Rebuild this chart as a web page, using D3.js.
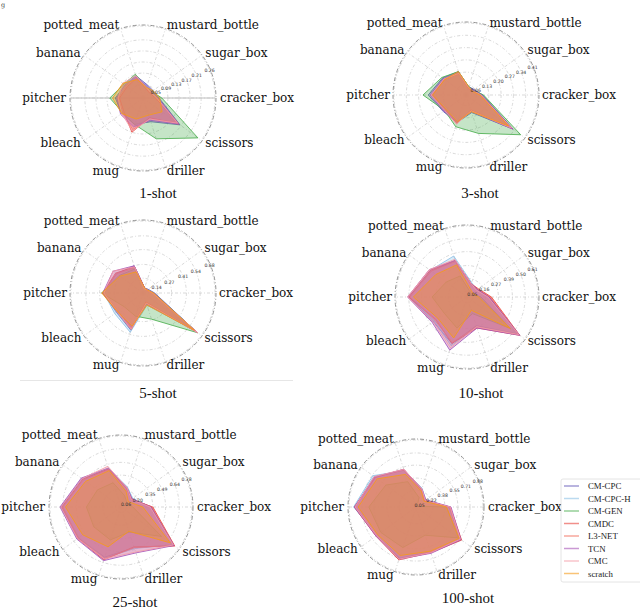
<!DOCTYPE html>
<html><head><meta charset="utf-8">
<script src="https://cdn.jsdelivr.net/npm/d3@7"></script>
<style>body{margin:0;background:#fff} svg{display:block}</style>
</head><body>
<svg id="chart" width="640" height="610"></svg>
<script>
// ---------- DATA ----------
const categories = ["cracker_box","sugar_box","mustard_bottle","potted_meat","banana","pitcher","bleach","mug","driller","scissors"];
const seriesNames = ["CM-CPC","CM-CPC-H","CM-GEN","CMDC","L3-NET","TCN","CMC","scratch"];
const seriesColors = ["#6257b8","#8ec1e6","#4caf50","#e8453c","#f26c5a","#a655b8","#f39ca8","#f59b1a"];
const panelTitles = ["1-shot","3-shot","5-shot","10-shot","25-shot","100-shot"];

const ticks1 = [0.05, 0.09, 0.13, 0.17, 0.21, 0.26];
const ticks3 = [0.06, 0.13, 0.20, 0.27, 0.34, 0.41];
const ticks5 = [0.14, 0.27, 0.41, 0.54, 0.68];
const ticks10 = [0.05, 0.16, 0.27, 0.39, 0.50, 0.61];
const ticks25 = [0.06, 0.20, 0.35, 0.49, 0.64, 0.78];
const ticks100 = [0.05, 0.22, 0.38, 0.55, 0.71, 0.88];

// rows follow seriesNames, columns follow categories
const values1 = [
  [0.058,0.045,0.050,0.085,0.080,0.100,0.095,0.100,0.090,0.165],
  [0.055,0.040,0.045,0.080,0.085,0.095,0.090,0.105,0.080,0.150],
  [0.068,0.040,0.040,0.090,0.085,0.120,0.090,0.100,0.155,0.245],
  [0.045,0.030,0.035,0.075,0.070,0.085,0.085,0.130,0.075,0.160],
  [0.050,0.035,0.040,0.080,0.075,0.090,0.090,0.120,0.080,0.150],
  [0.055,0.040,0.045,0.080,0.080,0.095,0.100,0.110,0.085,0.160],
  [0.050,0.035,0.040,0.085,0.090,0.090,0.095,0.125,0.080,0.155],
  [0.060,0.045,0.040,0.070,0.090,0.110,0.095,0.080,0.065,0.085]
];
const values3 = [
  [0.095,0.055,0.050,0.140,0.165,0.215,0.160,0.165,0.105,0.330],
  [0.090,0.050,0.045,0.130,0.160,0.200,0.150,0.160,0.100,0.315],
  [0.100,0.050,0.050,0.140,0.170,0.245,0.150,0.190,0.230,0.385],
  [0.085,0.040,0.040,0.130,0.150,0.190,0.145,0.170,0.090,0.320],
  [0.080,0.045,0.040,0.125,0.155,0.195,0.150,0.165,0.095,0.325],
  [0.090,0.050,0.045,0.135,0.160,0.205,0.155,0.160,0.100,0.330],
  [0.085,0.045,0.045,0.130,0.155,0.200,0.150,0.175,0.095,0.320],
  [0.080,0.040,0.050,0.140,0.150,0.190,0.140,0.160,0.100,0.300]
];
const values5 = [
  [0.11,0.06,0.05,0.27,0.31,0.38,0.31,0.37,0.10,0.62],
  [0.10,0.05,0.05,0.25,0.30,0.37,0.33,0.39,0.12,0.60],
  [0.10,0.05,0.04,0.24,0.28,0.39,0.22,0.23,0.26,0.64],
  [0.09,0.05,0.05,0.26,0.32,0.38,0.30,0.36,0.09,0.63],
  [0.09,0.04,0.05,0.25,0.31,0.37,0.29,0.35,0.10,0.62],
  [0.10,0.05,0.05,0.27,0.35,0.38,0.30,0.34,0.11,0.63],
  [0.09,0.05,0.04,0.26,0.35,0.37,0.30,0.36,0.10,0.64],
  [0.10,0.05,0.05,0.21,0.27,0.39,0.30,0.33,0.12,0.60]
];
const values10 = [
  [0.19,0.11,0.12,0.33,0.38,0.50,0.36,0.42,0.26,0.54],
  [0.18,0.10,0.13,0.37,0.39,0.49,0.35,0.44,0.27,0.52],
  [0.12,0.05,0.06,0.19,0.22,0.30,0.24,0.28,0.15,0.46],
  [0.21,0.12,0.12,0.33,0.39,0.50,0.33,0.42,0.28,0.56],
  [0.20,0.11,0.11,0.32,0.38,0.49,0.34,0.41,0.27,0.55],
  [0.19,0.11,0.12,0.33,0.40,0.51,0.37,0.48,0.28,0.56],
  [0.18,0.10,0.12,0.34,0.40,0.51,0.36,0.46,0.27,0.55],
  [0.10,0.06,0.08,0.29,0.33,0.46,0.31,0.37,0.12,0.46]
];
const values25 = [
  [0.33,0.15,0.22,0.44,0.53,0.66,0.58,0.58,0.47,0.71],
  [0.32,0.16,0.23,0.45,0.52,0.64,0.57,0.59,0.48,0.70],
  [0.13,0.08,0.13,0.28,0.32,0.38,0.37,0.38,0.29,0.55],
  [0.35,0.14,0.21,0.44,0.52,0.65,0.59,0.61,0.46,0.73],
  [0.34,0.15,0.21,0.43,0.51,0.64,0.58,0.60,0.47,0.72],
  [0.33,0.15,0.22,0.45,0.54,0.67,0.60,0.62,0.53,0.72],
  [0.32,0.14,0.22,0.47,0.53,0.66,0.59,0.60,0.52,0.71],
  [0.24,0.10,0.18,0.42,0.48,0.61,0.52,0.46,0.28,0.67]
];
const values100 = [
  [0.44,0.15,0.25,0.51,0.68,0.80,0.64,0.71,0.62,0.72],
  [0.43,0.16,0.26,0.50,0.70,0.82,0.63,0.70,0.61,0.73],
  [0.40,0.02,0.13,0.35,0.49,0.62,0.57,0.56,0.39,0.69],
  [0.45,0.14,0.24,0.52,0.66,0.81,0.65,0.73,0.63,0.74],
  [0.44,0.15,0.24,0.51,0.67,0.80,0.64,0.72,0.62,0.73],
  [0.46,0.16,0.25,0.52,0.67,0.81,0.65,0.72,0.64,0.73],
  [0.45,0.15,0.25,0.52,0.68,0.80,0.64,0.72,0.63,0.72],
  [0.40,0.13,0.22,0.45,0.63,0.76,0.62,0.67,0.61,0.70]
];

// ---------- LAYOUT ----------
const panels = [
  {title: panelTitles[0], values: values1,   ticks: ticks1,   cx:143, cy:98,  r:72, lr:77, tx:158, ty:198, hline:true},
  {title: panelTitles[1], values: values3,   ticks: ticks3,   cx:466, cy:95,  r:72, lr:76, tx:480, ty:198},
  {title: panelTitles[2], values: values5,   ticks: ticks5,   cx:143, cy:293, r:72, lr:76, tx:158, ty:398},
  {title: panelTitles[3], values: values10,  ticks: ticks10,  cx:467, cy:297, r:71, lr:75, tx:481, ty:398},
  {title: panelTitles[4], values: values25,  ticks: ticks25,  cx:121, cy:507, r:71, lr:76, tx:135, ty:607},
  {title: panelTitles[5], values: values100, ticks: ticks100, cx:416, cy:507, r:67, lr:72, tx:468, ty:603}
];

const svg = d3.select("#chart");
svg.append("rect").attr("width",640).attr("height",610).attr("fill","#fff");

// small glyph at the top-left corner (as in the source figure)
svg.append("text").attr("x",1).attr("y",7).attr("font-family","DejaVu Serif").attr("font-size",6.5).attr("fill","#444").text("g");

// faint separator under 5-shot
svg.append("line").attr("x1",20).attr("x2",293).attr("y1",380.5).attr("y2",380.5).attr("stroke","#e6e6e6").attr("stroke-width",1);

const nCat = categories.length;
const angleOf = i => Math.PI/2 - i * 2 * Math.PI / nCat; // d3 radial angle (clockwise from north)
const labelAngle = 22.5 * Math.PI / 180;

panels.forEach(p => {
  const g = svg.append("g").attr("transform", `translate(${p.cx},${p.cy})`);
  const rmax = p.ticks[p.ticks.length - 1];
  const rs = d3.scaleLinear().domain([0, rmax]).range([0, p.r]);

  if (p.hline) {
    g.append("line").attr("x1",-p.r).attr("x2",p.r).attr("y1",0).attr("y2",0)
      .attr("stroke","#dedede").attr("stroke-width",2);
  }
  // grid circles
  g.selectAll("circle.grid").data(p.ticks).join("circle").attr("class","grid")
    .attr("r", d => rs(d)).attr("fill","none").attr("stroke","#c8c8c8")
    .attr("stroke-width",0.7).attr("stroke-dasharray","3,2,1,2");
  // spokes
  g.selectAll("line.spoke").data(categories).join("line").attr("class","spoke")
    .attr("x1",0).attr("y1",0)
    .attr("x2",(d,i) => rs(rmax) * Math.sin(angleOf(i)))
    .attr("y2",(d,i) => -rs(rmax) * Math.cos(angleOf(i)))
    .attr("stroke","#c8c8c8").attr("stroke-width",0.7).attr("stroke-dasharray","3,2,1,2");
  // outer spine
  g.append("circle").attr("r", p.r + 1).attr("fill","none").attr("stroke","#777")
    .attr("stroke-width",0.8).attr("stroke-dasharray","4,2,1,2");

  // series polygons
  const radial = d3.lineRadial()
    .angle((d,i) => angleOf(i))
    .radius(d => rs(d))
    .curve(d3.curveLinearClosed);
  g.selectAll("path.series").data(p.values).join("path").attr("class","series")
    .attr("d", radial)
    .attr("fill",(d,i) => seriesColors[i]).attr("fill-opacity",0.32)
    .attr("stroke",(d,i) => seriesColors[i]).attr("stroke-opacity",0.85)
    .attr("stroke-width",1).attr("stroke-linejoin","round");

  // radial tick labels
  g.selectAll("text.rtick").data(p.ticks).join("text").attr("class","rtick")
    .attr("x", d => rs(d) * Math.cos(labelAngle))
    .attr("y", d => -rs(d) * Math.sin(labelAngle))
    .attr("text-anchor","middle").attr("dominant-baseline","central")
    .attr("font-family","DejaVu Sans").attr("font-size",4.6).attr("fill","#333")
    .text(d => d.toFixed(2));

  // category labels
  g.selectAll("text.cat").data(categories).join("text").attr("class","cat")
    .attr("x",(d,i) => p.lr * Math.sin(angleOf(i)))
    .attr("y",(d,i) => -p.lr * Math.cos(angleOf(i)))
    .attr("text-anchor",(d,i) => { const c = Math.sin(angleOf(i)); return c > 0.01 ? "start" : (c < -0.01 ? "end" : "middle"); })
    .attr("dominant-baseline","central")
    .attr("font-family","DejaVu Serif").attr("font-size",12).attr("fill","#111")
    .text(d => d);

  // panel title
  svg.append("text").attr("x",p.tx).attr("y",p.ty).attr("text-anchor","middle")
    .attr("font-family","Liberation Serif").attr("font-size",15).attr("fill","#111")
    .text(p.title);
});

// ---------- LEGEND ----------
const lg = svg.append("g").attr("transform","translate(561,479)");
lg.append("rect").attr("x",0).attr("y",0).attr("width",82).attr("height",103).attr("rx",2)
  .attr("fill","#fff").attr("fill-opacity",0.85).attr("stroke","#dddddd").attr("stroke-width",0.8);
const items = lg.selectAll("g.item").data(seriesNames).join("g").attr("class","item")
  .attr("transform",(d,i) => `translate(0,${7 + i*12.5})`);
items.append("line").attr("x1",3).attr("x2",18).attr("y1",0).attr("y2",0)
  .attr("stroke",(d,i) => seriesColors[i]).attr("stroke-opacity",0.6).attr("stroke-width",1.5);
items.append("text").attr("x",27).attr("y",0).attr("dominant-baseline","central")
  .attr("font-family","Liberation Serif").attr("font-size",8.8).attr("fill","#222")
  .text(d => d);
</script>
</body></html>
